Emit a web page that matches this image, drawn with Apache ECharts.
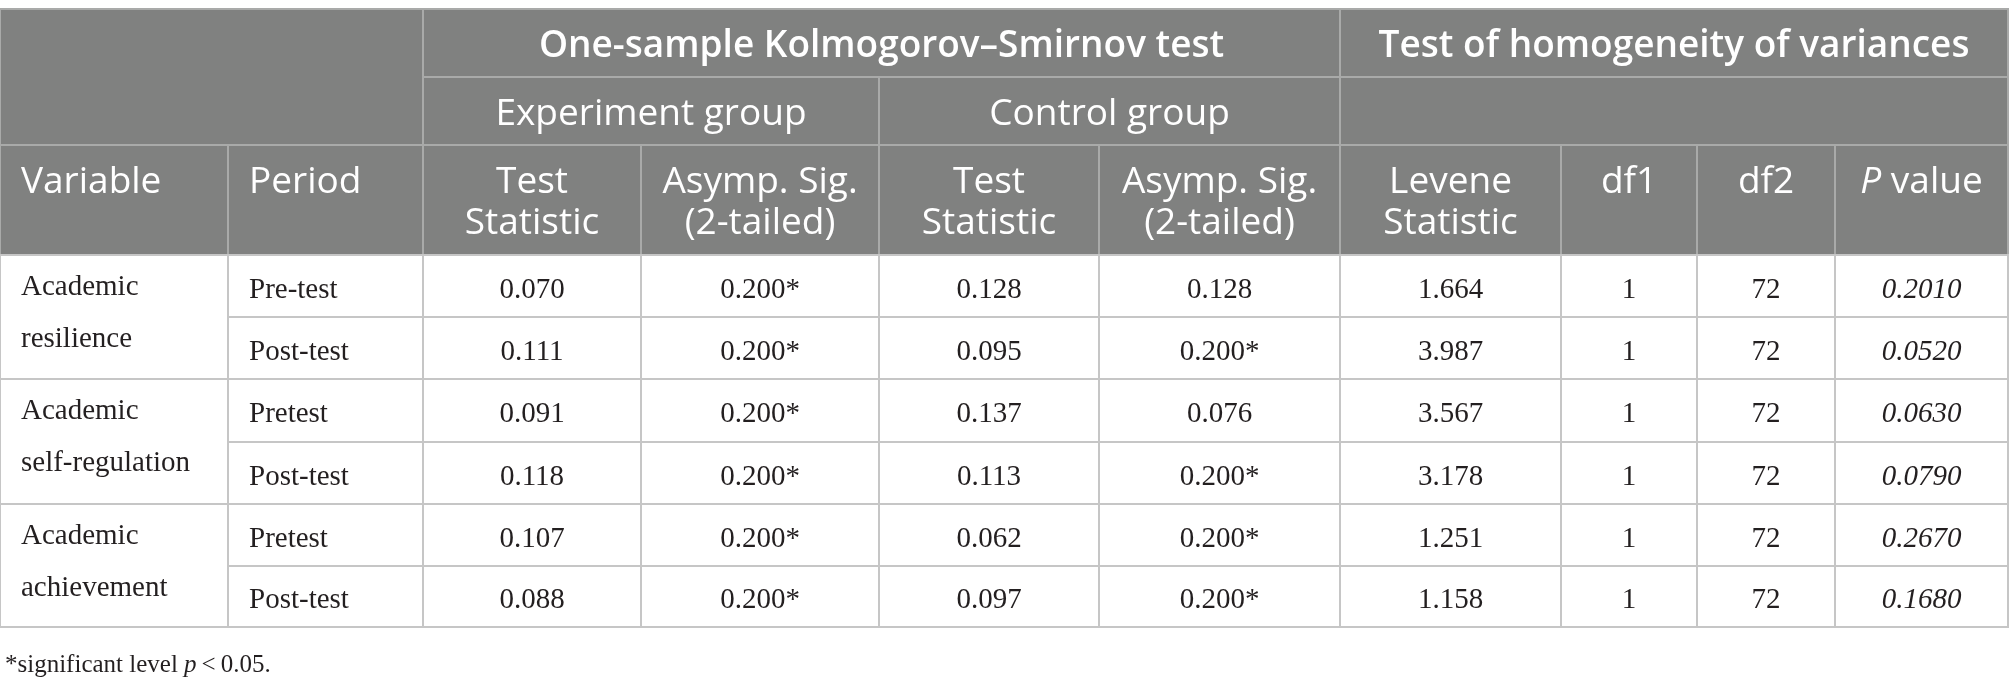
<!DOCTYPE html>
<html>
<head>
<meta charset="utf-8">
<script src="https://cdn.jsdelivr.net/npm/echarts@6/dist/echarts.min.js"></script>
<style>html,body{margin:0;padding:0;background:#fff;}#c{width:2009px;height:687px;}</style>
</head>
<body>
<div id="c"></div>
<script>
// ---- data ----
const topHeaders = ['One-sample Kolmogorov\u2013Smirnov test', 'Test of homogeneity of variances'];
const groupHeaders = ['Experiment group', 'Control group'];
const columnHeaders = ['Variable', 'Period', 'Test\nStatistic', 'Asymp. Sig.\n(2-tailed)', 'Test\nStatistic', 'Asymp. Sig.\n(2-tailed)', 'Levene\nStatistic', 'df1', 'df2', '{i|P} value'];
const variables = ['Academic\nresilience', 'Academic\nself-regulation', 'Academic\nachievement'];
const periods = ['Pre-test', 'Post-test', 'Pretest', 'Post-test', 'Pretest', 'Post-test'];
const expStat = ['0.070', '0.111', '0.091', '0.118', '0.107', '0.088'];
const expSig = ['0.200*', '0.200*', '0.200*', '0.200*', '0.200*', '0.200*'];
const ctrlStat = ['0.128', '0.095', '0.137', '0.113', '0.062', '0.097'];
const ctrlSig = ['0.128', '0.200*', '0.076', '0.200*', '0.200*', '0.200*'];
const leveneStat = ['1.664', '3.987', '3.567', '3.178', '1.251', '1.158'];
const df1 = ['1', '1', '1', '1', '1', '1'];
const df2 = ['72', '72', '72', '72', '72', '72'];
const pValue = ['0.2010', '0.0520', '0.0630', '0.0790', '0.2670', '0.1680'];
const footnote = '*significant level {i|p}\u2009<\u20090.05.';

// ---- layout ----
const colEdges = [0, 228, 423, 641, 879, 1099, 1340, 1561, 1697, 1835, 2008];
const headEdges = [9, 77, 145, 255];
const rowEdges = [255, 317, 379, 442, 504, 566, 627];

const HEAD_BG = '#808180', HEAD_LINE = '#a9aaa9', BODY_LINE = '#c6c6c6';
const SANS = '"Open Sans", "Noto Sans", sans-serif';
const SERIF = '"Liberation Serif", "DejaVu Serif", serif';

const cells = [];
function add(c0, c1, y0, y1, o) { cells.push(Object.assign({ v: [colEdges[c0], y0, colEdges[c1], y1] }, o)); }
const headStyle = { fill: HEAD_BG, stroke: HEAD_LINE, color: '#fff', family: SANS, size: 37, dy: 3 };
// header
add(0, 2, headEdges[0], headEdges[2], Object.assign({}, headStyle, { text: '' }));
add(2, 6, headEdges[0], headEdges[1], Object.assign({}, headStyle, { text: topHeaders[0], weight: 600, align: 'center' }));
add(6, 10, headEdges[0], headEdges[1], Object.assign({}, headStyle, { text: topHeaders[1], weight: 600, align: 'center' }));
add(2, 4, headEdges[1], headEdges[2], Object.assign({}, headStyle, { text: groupHeaders[0], align: 'center' }));
add(4, 6, headEdges[1], headEdges[2], Object.assign({}, headStyle, { text: groupHeaders[1], align: 'center' }));
add(6, 10, headEdges[1], headEdges[2], Object.assign({}, headStyle, { text: '' }));
columnHeaders.forEach((t, i) => {
  add(i, i + 1, headEdges[2], headEdges[3], Object.assign({}, headStyle, { text: t, align: i < 2 ? 'left' : 'center', vTop: 17, lineHeight: 41 }));
});
// body
const bodyStyle = { fill: '#fff', stroke: BODY_LINE, color: '#231f20', family: SERIF, size: 29, dy: 4 };
variables.forEach((t, g) => {
  add(0, 1, rowEdges[2 * g], rowEdges[2 * g + 2], Object.assign({}, bodyStyle, { text: t, align: 'left', vTop: 6, lineHeight: 52 }));
});
const bodyCols = [periods, expStat, expSig, ctrlStat, ctrlSig, leveneStat, df1, df2, pValue];
for (let r = 0; r < periods.length; r++) {
  bodyCols.forEach((arr, j) => {
    add(j + 1, j + 2, rowEdges[r], rowEdges[r + 1], Object.assign({}, bodyStyle, {
      text: arr[r], align: j === 0 ? 'left' : 'center', italic: j === bodyCols.length - 1
    }));
  });
}

const chart = echarts.init(document.getElementById('c'), null, { renderer: 'canvas' });
chart.setOption({
  animation: false,
  backgroundColor: '#fff',
  grid: { left: 0, right: 0, top: 0, bottom: 0 },
  xAxis: { type: 'value', min: 0, max: 2009, show: false },
  yAxis: { type: 'value', min: 0, max: 687, inverse: true, show: false },
  title: {
    text: footnote, left: 0, top: 648,
    textStyle: { fontFamily: SERIF, fontSize: 25, fontWeight: 'normal', color: '#231f20',
      rich: { i: { fontFamily: SERIF, fontSize: 25, fontStyle: 'italic', color: '#231f20' } } }
  },
  series: [{
    type: 'custom',
    coordinateSystem: 'cartesian2d',
    encode: { x: [0, 2], y: [1, 3] },
    data: cells.map(c => c.v),
    renderItem: function (params, api) {
      const c = cells[params.dataIndex];
      const p0 = api.coord([api.value(0), api.value(1)]);
      const p1 = api.coord([api.value(2), api.value(3)]);
      const children = [{
        type: 'rect',
        shape: { x: p0[0], y: p0[1], width: p1[0] - p0[0], height: p1[1] - p0[1] },
        style: { fill: c.fill, stroke: c.stroke, lineWidth: 2 }
      }];
      if (c.text) {
        const x = c.align === 'left' ? p0[0] + 21 : (p0[0] + p1[0]) / 2;
        const top = c.vTop != null;
        const y = top ? p0[1] + c.vTop : (p0[1] + p1[1]) / 2 + (c.dy || 0);
        children.push({
          type: 'text', x: x, y: y,
          style: {
            text: c.text, fill: c.color, fontFamily: c.family, fontSize: c.size,
            fontWeight: c.weight || 'normal', fontStyle: c.italic ? 'italic' : 'normal',
            align: c.align, verticalAlign: top ? 'top' : 'middle', lineHeight: c.lineHeight || c.size * 1.2,
            rich: { i: { fontStyle: 'italic', fontFamily: c.family, fontSize: c.size, fill: c.color } }
          }
        });
      }
      return { type: 'group', children: children };
    }
  }]
});
</script>
</body>
</html>
